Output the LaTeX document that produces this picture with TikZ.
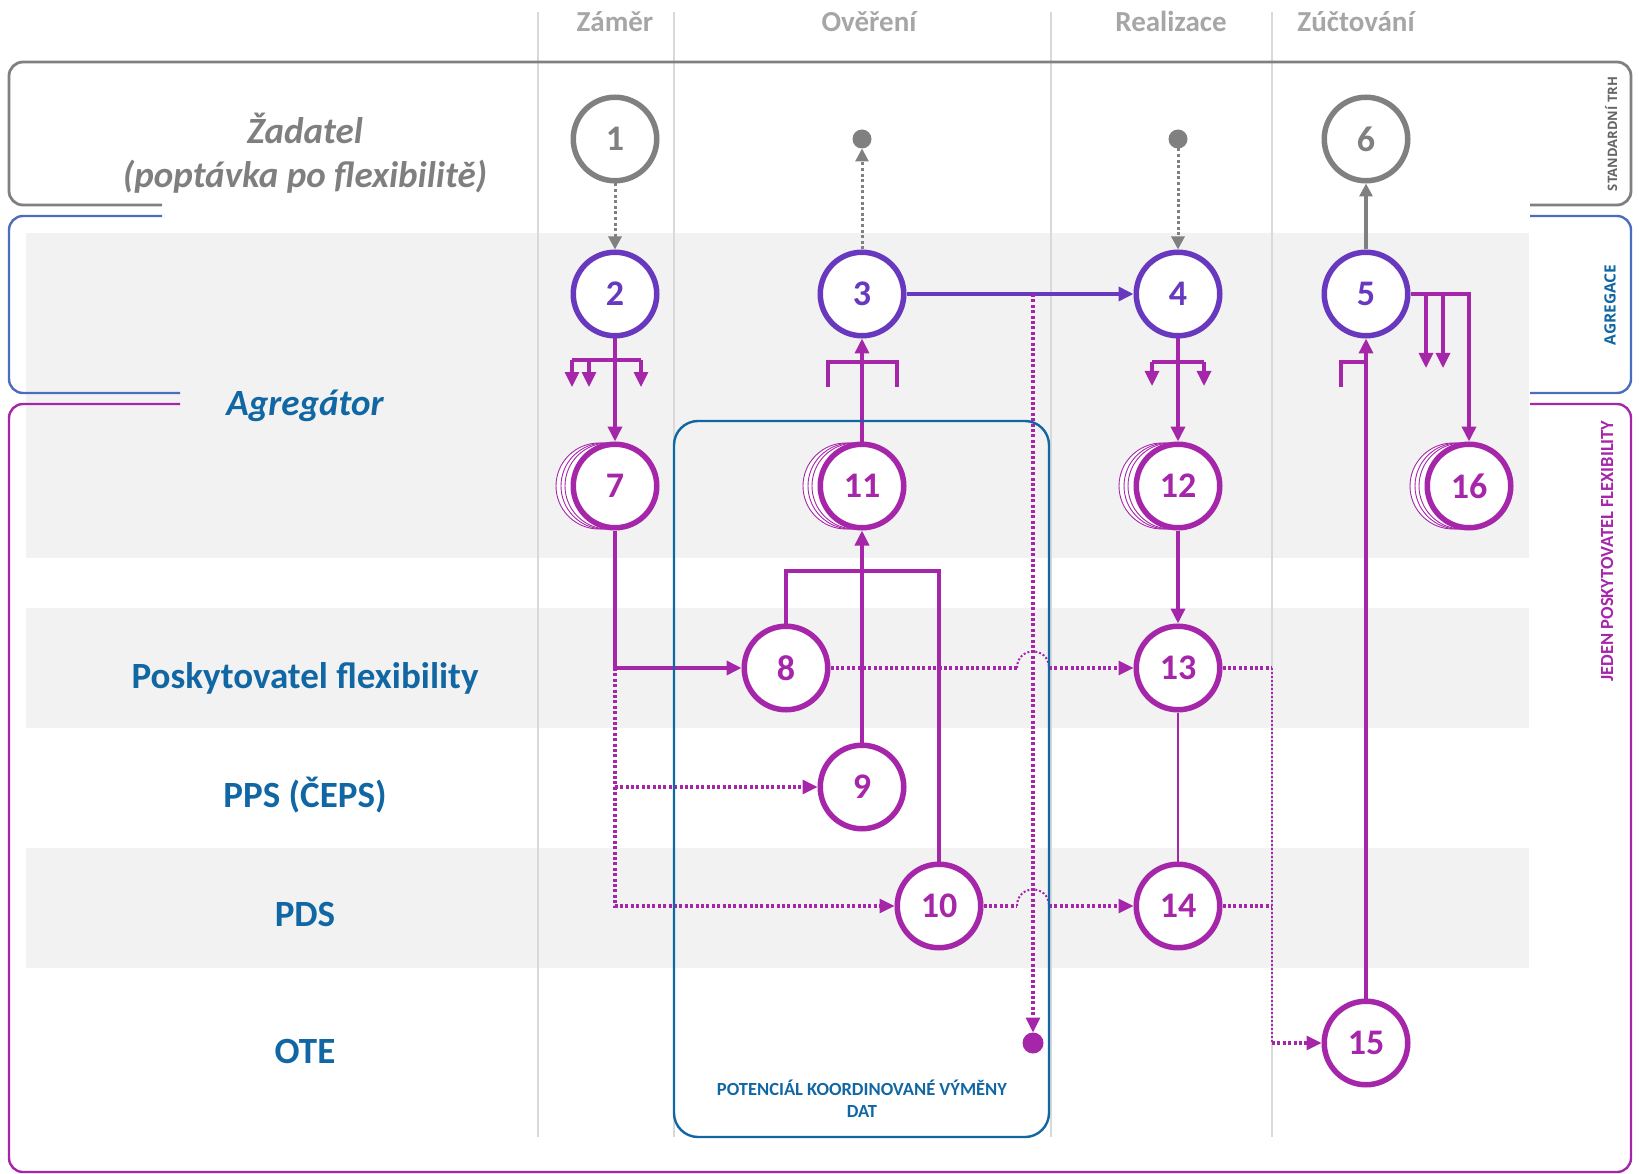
\documentclass[tikz,border=0pt]{standalone}
\usepackage{fontspec}
\setmainfont{Carlito}
\newfontfamily\widesans{Open Sans}
\usetikzlibrary{arrows.meta,calc}

\definecolor{hdrgrey}{HTML}{A6A6A6}
\definecolor{txtgrey}{HTML}{7F7F7F}
\definecolor{framegrey}{HTML}{808080}
\definecolor{sidegrey}{HTML}{666666}
\definecolor{framebl}{HTML}{4A6EBE}
\definecolor{lanebl}{RGB}{17,103,163}
\definecolor{agviolet}{RGB}{104,56,190}
\definecolor{pfmag}{RGB}{166,38,170}
\definecolor{bandfill}{HTML}{F2F2F2}
\definecolor{colline}{HTML}{D9D9D9}

\pgfdeclarelayer{lanes}
\pgfdeclarelayer{links}
\pgfsetlayers{lanes,links,main}

\begin{document}
\begin{tikzpicture}[x=1pt,y=-1pt,
  every node/.style={inner sep=0pt, outer sep=0pt},
  stepc/.style={circle, draw, line width=5.5pt, fill=white, minimum size=83.5pt,
    outer sep=2.75pt, font=\bfseries\fontsize{36}{36}\selectfont},
  gstep/.style={stepc, draw=framegrey, text=framegrey},
  vstep/.style={stepc, draw=agviolet, text=agviolet},
  mstep/.style={stepc, draw=pfmag, text=pfmag},
  ghost/.style={draw=pfmag, line width=0.9pt, fill=white},
  lanelabel/.style={text=lanebl, font=\bfseries\fontsize{37}{44}\selectfont, anchor=base},
  phase/.style={text=hdrgrey, font=\bfseries\fontsize{29}{30}\selectfont, anchor=base},
  bigtip/.style={-{Triangle[length=15pt,width=14pt]}},
  smalltip/.style={-{Triangle[length=15pt,width=14pt]}},
  greytip/.style={-{Triangle[length=13pt,width=13pt]}},
  flow/.style={draw=pfmag, line width=3.6pt, line cap=butt},
  vflow/.style={draw=agviolet, line width=3.6pt},
  gflow/.style={draw=framegrey, line width=3.2pt},
  gdots/.style={draw=framegrey, line width=3pt, dash pattern=on 3pt off 2.6pt},
  pdots/.style={draw=pfmag, line width=3.2pt, dash pattern=on 3pt off 2.4pt},
  pdotsthin/.style={draw=pfmag, line width=2pt, dash pattern=on 2pt off 2pt},
  fork/.style={draw=pfmag, line width=3.2pt},
]
\useasboundingbox (0,0) rectangle (1639,1174);

% ---------- swim lanes, phase columns and frames ----------
\begin{pgfonlayer}{lanes}
  \fill[bandfill] (26,233) rectangle (1529,558);
  \fill[bandfill] (26,608) rectangle (1529,728);
  \fill[bandfill] (26,848) rectangle (1529,968);
  \foreach \x in {538,674,1051,1272}
    \draw[colline, line width=1.3pt] (\x,12) -- (\x,1137);

  % standard market frame
  \draw[framegrey, line width=2.8pt, rounded corners=14pt]
    (162,205) -- (9,205) -- (9,62) -- (1631,62) -- (1631,205) -- (1530,205);
  % aggregation frame
  \draw[framebl, line width=2.4pt, rounded corners=14pt]
    (162,216) -- (9,216) -- (9,393) -- (180,393);
  \draw[framebl, line width=2.4pt, rounded corners=14pt]
    (1530,216) -- (1631,216) -- (1631,393) -- (1530,393);
  % single flexibility provider frame
  \draw[pfmag, line width=2.4pt, rounded corners=14pt]
    (180,404) -- (9,404) -- (9,1172) -- (1631,1172) -- (1631,404) -- (1530,404);
\end{pgfonlayer}

% phase headers
\node[phase] (hZ) at (615,32) {Záměr};
\node[phase] (hO) at (869,32) {Ověření};
\node[phase] (hR) at (1171,32) {Realizace};
\node[phase] (hU) at (1356,32) {Zúčtování};

% side captions
\node[rotate=90, text=sidegrey, font=\widesans\bfseries\fontsize{13}{14}\selectfont] (sStd) at (1611,134) {STANDARDNÍ TRH};
\node[rotate=90, text=lanebl, font=\widesans\bfseries\fontsize{15.5}{16}\selectfont] (sAgr) at (1610,305) {AGREGACE};
\node[rotate=90, text=pfmag, font=\bfseries\fontsize{18.5}{19}\selectfont] (sOne) at (1607,551) {JEDEN POSKYTOVATEL FLEXIBILITY};

% lane labels
\node[anchor=base, text=txtgrey, font=\bfseries\itshape\fontsize{37}{44}\selectfont] (lZ1) at (305,144) {Žadatel};
\node[anchor=base, text=txtgrey, font=\bfseries\itshape\fontsize{37}{44}\selectfont] (lZ2) at (305,188) {(poptávka po flexibilitě)};
\node[lanelabel, font=\bfseries\itshape\fontsize{37}{44}\selectfont] (lA) at (305,415) {Agregátor};
\node[lanelabel] (lP) at (305,688) {Poskytovatel flexibility};
\node[lanelabel] (lS) at (305,807) {PPS (ČEPS)};
\node[lanelabel] (lD) at (305,926) {PDS};
\node[lanelabel] (lO) at (305,1063) {OTE};

% coordinated data exchange area
\node[draw=lanebl, line width=2.4pt, rounded corners=24pt, minimum width=375pt, minimum height=716pt] (pot) at (861.5,779) {};
\node[text=lanebl, font=\bfseries\fontsize{18.5}{22}\selectfont, align=center] (potlab) at (862,1099) {POTENCIÁL KOORDINOVANÉ VÝMĚNY\\DAT};

% ---------- stacked copies behind the multi-instance steps ----------
\foreach \cx/\cy in {615/486, 862/486, 1178/486, 1469/486} {
  \foreach \dx in {16,11,7}
    \draw[ghost] (\cx-\dx,\cy) circle[radius=43pt];
}

% ---------- steps ----------
\node[gstep] (c1) at (615,139) {1};
\node[gstep] (c6) at (1366,139) {6};
\node[vstep] (c2) at (615,294) {2};
\node[vstep] (c3) at (862,294) {3};
\node[vstep] (c4) at (1178,294) {4};
\node[vstep] (c5) at (1366,294) {5};
\node[mstep] (c7) at (615,486) {7};
\node[mstep] (c11) at (862,486) {11};
\node[mstep] (c12) at (1178,486) {12};
\node[mstep] (c16) at (1469,486) {16};
\node[mstep] (c8) at (786,668) {8};
\node[mstep] (c13) at (1178,668) {13};
\node[mstep] (c9) at (862,787) {9};
\node[mstep] (c10) at (939,906) {10};
\node[mstep] (c14) at (1178,906) {14};
\node[mstep] (c15) at (1366,1043) {15};

% end points
\node[circle, fill=framegrey, minimum size=19pt] (d3) at (862,139) {};
\node[circle, fill=framegrey, minimum size=19pt] (d4) at (1178,139) {};
\node[circle, fill=pfmag, minimum size=21pt] (ote) at (1033,1043) {};

% ---------- connectors ----------
\begin{pgfonlayer}{links}
  % standard market
  \draw[gdots, greytip] (c1.south) -- (c2.north);
  \draw[gdots, greytip] (c3.north) -- (d3.south);
  \draw[gdots, greytip] (d4.south) -- (c4.north);
  \draw[gflow, greytip] (c5.north) -- (c6.south);

  % aggregation
  \draw[vflow, bigtip] (c3.east) -- (c4.west);
  \draw[flow, bigtip] (c2.south) -- (c7.north);
  \draw[flow, bigtip] (c11.north) -- (c3.south);
  \draw[flow, bigtip] (c4.south) -- (c12.north);
  \draw[flow, bigtip] (c15.north) -- (c5.south);
  \draw[flow, bigtip] (c5.east) -| (c16.north);

  % fan-out marks
  \draw[fork] (572,360) -- (641,360);
  \draw[fork, smalltip] (572,360) -- (572,387);
  \draw[fork, smalltip] (589,360) -- (589,387);
  \draw[fork, smalltip] (641,360) -- (641,387);
  \draw[fork] (828,387) -- (828,362) -- (897,362) -- (897,387);
  \draw[fork] (1152,362) -- (1204,362);
  \draw[fork, smalltip] (1152,362) -- (1152,386);
  \draw[fork, smalltip] (1204,362) -- (1204,386);
  \draw[fork] (1341,387) -- (1341,362) -- (1366,362);
  \draw[fork, smalltip] (1426,294) -- (1426,368);
  \draw[fork, smalltip] (1443,294) -- (1443,368);

  % flexibility provider and network operators
  \draw[flow, bigtip] (c7.south) |- (c8.west);
  \coordinate (k7) at (c7.south |- c8.west);
  \draw[pdots, smalltip] (k7) |- (c9.west);
  \draw[pdots, smalltip] (k7) |- (c10.west);
  \draw[flow, bigtip] (c9.north) -- (c11.south);
  \draw[flow] (c8.north) -- ++(0,-52.5) -| (c10.north);
  \draw[flow, bigtip] (c12.south) -- (c13.north);
  \draw[pfmag, line width=2.2pt] (c13.south) -- (c14.north);

  % data to the market operator
  \coordinate (j3) at (1033,294);
  \draw[pdots, smalltip] (j3) -- (ote.north);

  % dotted links with hops over the data line
  \draw[pdots] (c8.east) -- (1017,668);
  \draw[pdotsthin] (1017,668) .. controls (1017,646) and (1049,646) .. (1049,668);
  \draw[pdots, smalltip] (1049,668) -- (c13.west);
  \draw[pdots] (c10.east) -- (1017,906);
  \draw[pdotsthin] (1017,906) .. controls (1017,884) and (1049,884) .. (1049,906);
  \draw[pdots, smalltip] (1049,906) -- (c14.west);

  % settlement inputs
  \coordinate (m13) at (1272,668);
  \coordinate (m15) at (1272,1043);
  \draw[pdots] (c13.east) -- (m13);
  \draw[pdots] (c14.east) -- (c14.east -| m13);
  \draw[pdotsthin] (m13) -- (m15);
  \draw[pdots, smalltip] (m15) -- (c15.west);
\end{pgfonlayer}
\end{tikzpicture}
\end{document}
